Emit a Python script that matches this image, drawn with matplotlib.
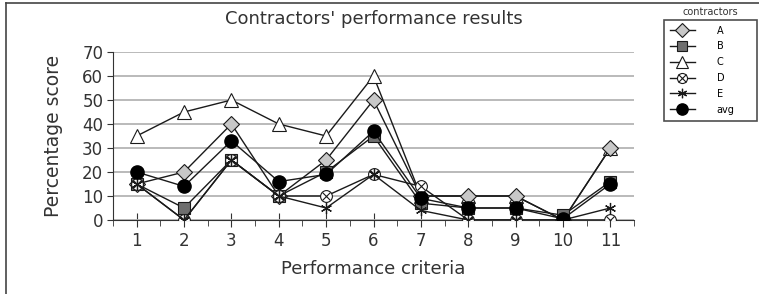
import matplotlib.pyplot as plt
from matplotlib.lines import Line2D
from matplotlib.legend_handler import HandlerTuple
import numpy as np

criteria = [1, 2, 3, 4, 5, 6, 7, 8, 9, 10, 11]
score_a = [15, 20, 40, 10, 25, 50, 10, 10, 10, 0, 30]
score_b = [15, 5, 25, 10, 20, 35, 7, 5, 5, 2, 16]
score_c = [35, 45, 50, 40, 35, 60, 10, 10, 10, 0, 30]
score_d = [15, 0, 25, 10, 10, 19, 14, 0, 0, 0, 0]
score_e = [15, 0, 25, 10, 5, 19, 4, 0, 0, 0, 5]
score_avg = [20, 14, 33, 16, 19, 37, 9, 5, 5, 0.5, 15]
labels = ["A", "B", "C", "D", "E", "avg"]

plt.rcParams['font.family'] = ['DejaVu Sans']
fig = plt.figure(figsize=(7.59, 2.94), dpi=100)
ax = fig.add_axes([113 / 759, 1 - 220 / 294, (634 - 113) / 759, (220 - 52) / 294])

x = np.array(criteria)
lc = '#1a1a1a'
lw = 1.0
txt = '#333333'

# Series
ha, = ax.plot(x, score_a, color=lc, lw=lw, marker='D', ms=8.5, mfc='#c8c8c8', mec=lc, mew=0.8, zorder=4)
hb, = ax.plot(x, score_b, color=lc, lw=lw, marker='s', ms=8, mfc='#6e6e6e', mec=lc, mew=0.8, zorder=5)
hc, = ax.plot(x, score_c, color=lc, lw=lw, marker='^', ms=9.5, mfc='white', mec=lc, mew=0.8, zorder=3)
hd1, = ax.plot(x, score_d, color=lc, lw=lw, marker='o', ms=8.5, mfc='white', mec=lc, mew=0.8, zorder=5)
hd2, = ax.plot(x, score_d, ls='none', marker='x', ms=6, mec=lc, mew=0.8, zorder=5)
he, = ax.plot(x, score_e, color=lc, lw=lw, marker=(6, 2, 0), ms=8, mec=lc, mew=0.9, zorder=5)
hv, = ax.plot(x, score_avg, color=lc, lw=lw, marker='o', ms=9.5, mfc='black', mec='black', zorder=6)

# Axes styling
ax.set_xlim(0.5, 11.5)
ax.set_ylim(0, 70)
ax.set_xticks(criteria)
ax.set_xticks(np.arange(0.5, 12, 1), minor=True)
ax.set_yticks(range(0, 71, 10))
ax.yaxis.grid(True, color='#b4b4b4', lw=1.3)
ax.set_axisbelow(True)
for s in ['top', 'right']:
    ax.spines[s].set_visible(False)
ax.spines['left'].set_color(txt)
ax.spines['bottom'].set_color(txt)
ax.tick_params(axis='x', which='major', direction='inout', length=10, color=txt, labelsize=12, pad=4)
ax.tick_params(axis='x', which='minor', direction='out', length=4, color=txt)
ax.tick_params(axis='y', direction='out', length=4, color=txt, labelsize=12, pad=3)
ax.tick_params(colors=txt, which='both')
ax.set_xlabel('Performance criteria', fontsize=13, color=txt, labelpad=7)
ax.set_ylabel('Percentage score', fontsize=13.5, color=txt, labelpad=14)
ax.set_title("Contractors' performance results", fontsize=13, color=txt, pad=20)

# Legend outside plot
leg = fig.legend([ha, hb, hc, (hd1, hd2), he, hv], labels,
                 handler_map={tuple: HandlerTuple(ndivide=1)},
                 loc='upper left',
                 bbox_to_anchor=(664 / 759, 1 - 20 / 294, 93 / 759, 0.001),
                 mode='expand',
                 fontsize=7, frameon=True, fancybox=False, edgecolor='#222222',
                 handlelength=2.6, labelspacing=0.6, handletextpad=2.2,
                 borderpad=0.6, borderaxespad=0, markerscale=0.85)
leg.get_frame().set_linewidth(1.2)
fig.text(710 / 759, 1 - 12 / 294, 'contractors', ha='center', va='center', fontsize=7, color=txt)

# Outer frame (top and left edges visible)
fig.add_artist(Line2D([6 / 759, 1], [1 - 3 / 294, 1 - 3 / 294], color='#444444', lw=1.2))
fig.add_artist(Line2D([6 / 759, 6 / 759], [0, 1 - 3 / 294], color='#444444', lw=1.2))

fig.savefig('out.png', dpi=100)
